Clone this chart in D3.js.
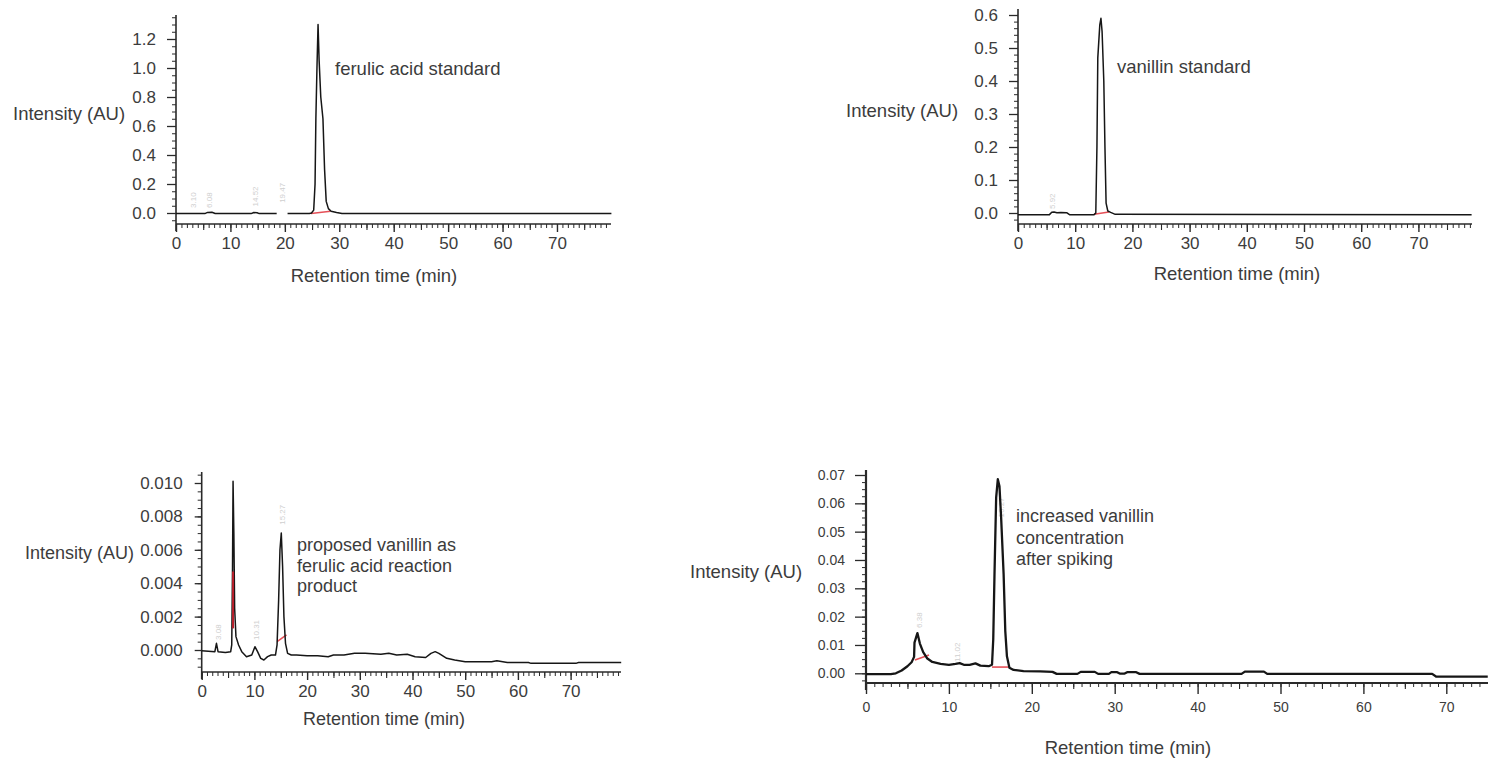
<!DOCTYPE html>
<html>
<head>
<meta charset="utf-8">
<script src="https://cdn.jsdelivr.net/npm/d3@7"></script>
<style>
  body { margin: 0; background: #fff; }
  svg text { font-family: "Liberation Sans", Arial, sans-serif; }
</style>
</head>
<body>
<svg id="chart" width="1488" height="763"></svg>
<script>
// ---------- chromatogram data: [retention time (min), absorbance (AU)] ----------
const ferulicTrace = [
  [0,-0.004],[2.5,-0.004],[5.3,-0.004],[5.8,0.004],[6.6,0.005],[7.2,-0.003],
  [13.8,-0.004],[14.3,0.003],[14.9,0.002],[15.3,-0.004],[18.5,-0.004],
  [18.6,null],[20.4,null],
  [20.5,-0.004],[24.5,-0.003],[24.9,0.0],[25.3,0.02],[25.55,0.2],[25.7,0.65],
  [25.9,1.0],[26.1,1.30],[26.3,1.05],[26.6,0.8],[27.0,0.65],[27.3,0.3],
  [27.6,0.08],[28.0,0.03],[28.5,0.012],[29.5,0.003],[30.5,-0.004],[80,-0.004]
];
const ferulicBaseline = [[24.8,-0.003],[28.4,0.012]];
const ferulicPeakTags = [[3.1,0.035,"3.10"],[6.1,0.035,"6.08"],[14.5,0.045,"14.52"],[19.5,0.07,"19.47"]];
const ferulicYTicks = [0, 0.2, 0.4, 0.6, 0.8, 1.0, 1.2];

const vanillinTrace = [
  [0,-0.005],[5.5,-0.005],[5.9,0.002],[6.3,0.003],[6.8,0.001],[7.5,0.0015],
  [8.5,0.001],[9.0,-0.005],[13.3,-0.005],[13.6,0.0],[13.8,0.2],[13.95,0.47],
  [14.3,0.57],[14.5,0.59],[14.7,0.55],[15.0,0.4],[15.2,0.2],[15.4,0.03],
  [15.7,0.006],[16.2,0.002],[17,-0.004],[79.3,-0.005]
];
const vanillinBaseline = [[13.3,-0.004],[15.9,0.003]];
const vanillinPeakTags = [[5.9,0.012,"5.92"]];
const vanillinYTicks = [0, 0.1, 0.2, 0.3, 0.4, 0.5, 0.6];

const reactionTrace = [
  [0,-0.00005],[2.5,-0.0001],[2.8,0.0004],[3.1,-0.0001],[4.5,-0.00015],[5.5,-0.0001],
  [5.7,0.0003],[5.85,0.005],[5.95,0.0101],[6.1,0.007],[6.25,0.0025],[6.5,0.0008],
  [7.0,0.0003],[7.6,-0.0001],[8.5,-0.0004],[9.5,-0.0003],[10.1,0.0002],[10.6,-0.0001],
  [11.2,-0.0005],[11.8,-0.0006],[12.5,-0.0004],[13.2,-0.0003],[14.0,-0.0003],
  [14.3,0.0003],[14.6,0.003],[14.85,0.006],[15.1,0.0070],[15.35,0.005],[15.6,0.002],
  [15.9,0.0004],[16.3,-0.0002],[17,-0.0003],[18,-0.0003],[20,-0.00035],[22,-0.00035],
  [24,-0.0004],[25,-0.0003],[27,-0.0003],[29,-0.0002],[31,-0.0002],[34,-0.00025],
  [35.5,-0.0002],[37,-0.0003],[39,-0.00025],[40.5,-0.0004],[42.5,-0.00045],
  [43.5,-0.0002],[44.3,-0.0001],[45,-0.0002],[46.5,-0.0005],[48,-0.0006],[50,-0.0007],
  [53,-0.0007],[55,-0.0007],[56,-0.00065],[58,-0.00075],[62,-0.00075],[62.5,-0.0008],
  [68,-0.0008],[71,-0.0008],[71.5,-0.00075],[79.6,-0.00075]
];
const reactionDropLine = [[5.95,0.0013],[5.95,0.0047]];
const reactionBaseline = [[14.3,0.0005],[16.1,0.0009]];
const reactionPeakTags = [[3.1,0.0006,"3.08"],[10.3,0.0006,"10.31"],[15.3,0.0075,"15.27"]];
const reactionYTicks = [0, 0.002, 0.004, 0.006, 0.008, 0.010];

const spikedTrace = [
  [0,-0.0003],[3,-0.0003],[3.6,0.0],[4.3,0.001],[5.0,0.0025],[5.5,0.0039],[5.8,0.0058],
  [5.85,0.0108],[6.2,0.0142],[6.5,0.0105],[6.9,0.0075],[7.4,0.0052],[8.0,0.004],
  [9,0.0033],[10,0.003],[10.8,0.0033],[11.3,0.0036],[11.8,0.003],[12.5,0.003],
  [13.2,0.0035],[13.8,0.0027],[14.8,0.0025],[15.2,0.003],[15.35,0.012],[15.5,0.035],
  [15.7,0.062],[15.9,0.0685],[16.1,0.066],[16.3,0.055],[16.6,0.035],[16.8,0.015],
  [17.0,0.006],[17.3,0.002],[17.8,0.0012],[19,0.0008],[21,0.0007],[22.5,0.0005],
  [23,-0.0002],[25.5,-0.0002],[25.9,0.0005],[27.6,0.0005],[28,-0.0002],[29.3,-0.0002],
  [29.6,0.0004],[30.3,0.0004],[30.6,-0.0001],[31.2,-0.0001],[31.5,0.0004],[32.6,0.0004],
  [33,-0.0002],[45.3,-0.0002],[45.7,0.0006],[48,0.0006],[48.4,-0.0002],[68.3,-0.0002],
  [68.8,-0.0012],[75,-0.0012]
];
const spikedBaselines = [
  [[5.9,0.0047],[7.6,0.0065]],
  [[15.2,0.0022],[17.2,0.0022]]
];
const spikedPeakTags = [[6.4,0.016,"6.38"],[11.0,0.004,"11.02"],[16.3,0.055,"16.27"]];
const spikedYTicks = [0, 0.01, 0.02, 0.03, 0.04, 0.05, 0.06, 0.07];

const timeTicks = [0, 10, 20, 30, 40, 50, 60, 70];
const yAxisTitle = "Intensity (AU)";
const xAxisTitle = "Retention time (min)";

// ---------- panel layout ----------
const panels = [
  {
    trace: ferulicTrace, reds: [ferulicBaseline], tags: ferulicPeakTags,
    yTicks: ferulicYTicks, yMinor: 0.05, fmt: d3.format(".1f"),
    xDomain: [0, 80], xRange: [176, 611.4],
    yDomain: [0, 1.2], yRange: [213, 39],
    axisTop: 15, axisY: 224, axisEnd: 611,
    tickFont: 17, yPad: 11, ytick: 9,
    note: ["ferulic acid standard"], noteX: 335, noteY: 70, noteFont: 18.5, noteGap: 21,
    yTitle: [13, 115], xTitle: [374, 277], titleFont: 18.5, lw: 1.5
  },
  {
    trace: vanillinTrace, reds: [vanillinBaseline], tags: vanillinPeakTags,
    yTicks: vanillinYTicks, yMinor: 0.02, fmt: d3.format(".1f"),
    xDomain: [0, 79.3], xRange: [1018, 1471.6],
    yDomain: [0, 0.6], yRange: [213, 15],
    axisTop: 9, axisY: 224, axisEnd: 1472,
    tickFont: 17, yPad: 11, ytick: 9,
    note: ["vanillin standard"], noteX: 1117, noteY: 68, noteFont: 18.5, noteGap: 21,
    yTitle: [846, 112], xTitle: [1237, 275], titleFont: 18.5, lw: 1.5
  },
  {
    trace: reactionTrace, reds: [reactionDropLine, reactionBaseline], tags: reactionPeakTags,
    yTicks: reactionYTicks, yMinor: 0.0005, fmt: d3.format(".3f"),
    xDomain: [0, 79.6], xRange: [201.7, 621.2],
    yDomain: [0, 0.010], yRange: [650, 483],
    axisTop: 472, axisY: 672, axisEnd: 621,
    tickFont: 17, yPad: 12, ytick: 7,
    note: ["proposed vanillin as", "ferulic acid reaction", "product"],
    noteX: 297, noteY: 546, noteFont: 18, noteGap: 20.5,
    yTitle: [25, 554], xTitle: [384, 720], titleFont: 18, lw: 1.5
  },
  {
    trace: spikedTrace, reds: spikedBaselines, tags: spikedPeakTags,
    yTicks: spikedYTicks, yMinor: 0.0025, fmt: d3.format(".2f"),
    xDomain: [0, 75], xRange: [866, 1487.75],
    yDomain: [0, 0.07], yRange: [673.3, 475],
    axisTop: 470, axisY: 683, axisEnd: 1488,
    tickFont: 14, yPad: 10, ytick: 11,
    note: ["increased vanillin", "concentration", "after spiking"],
    noteX: 1016, noteY: 517, noteFont: 18, noteGap: 21.5,
    yTitle: [690, 573], xTitle: [1128, 749], titleFont: 18.5, lw: 2.3
  }
];

const svg = d3.select("#chart");
const ink = "#2a2a2a";
const labelInk = "#3c3c3c";

panels.forEach(p => {
  const g = svg.append("g");
  const x = d3.scaleLinear().domain(p.xDomain).range(p.xRange);
  const y = d3.scaleLinear().domain(p.yDomain).range(p.yRange);
  const x0 = x(0);

  // axis lines
  g.append("line").attr("x1", x0).attr("x2", x0)
    .attr("y1", p.axisTop).attr("y2", p.axisY + 7)
    .attr("stroke", ink).attr("stroke-width", p.lw > 2 ? 2.2 : 1.6);
  g.append("line").attr("x1", x0).attr("x2", p.axisEnd)
    .attr("y1", p.axisY).attr("y2", p.axisY)
    .attr("stroke", ink).attr("stroke-width", p.lw > 2 ? 2 : 1.4);

  // y axis: minor and major ticks
  const yMaxVis = y.invert(p.axisTop + 2);
  const yMinVis = y.invert(p.axisY - 2);
  const minorY = d3.range(Math.ceil(yMinVis / p.yMinor) * p.yMinor, yMaxVis, p.yMinor);
  const yMinorAxis = d3.axisLeft(y).tickValues(minorY).tickSize(4).tickFormat("").tickSizeOuter(0);
  g.append("g").attr("transform", `translate(${x0},0)`).call(yMinorAxis)
    .call(a => a.select(".domain").remove())
    .selectAll("line").attr("stroke", ink).attr("stroke-width", 1);
  const yAxis = d3.axisLeft(y).tickValues(p.yTicks).tickSize(p.ytick)
    .tickPadding(p.yPad).tickFormat(p.fmt).tickSizeOuter(0);
  const ya = g.append("g").attr("transform", `translate(${x0},0)`).call(yAxis);
  ya.select(".domain").remove();
  ya.selectAll("line").attr("stroke", ink).attr("stroke-width", 1.3);
  ya.selectAll("text").attr("fill", labelInk).style("font-size", p.tickFont + "px");

  // x axis: minor (1 min), medium (5 min), major (10 min)
  const xMax = x.invert(p.axisEnd - 1);
  const minorX = d3.range(0, xMax, 1);
  const mediumX = d3.range(5, xMax, 10);
  const xm = g.append("g").attr("transform", `translate(0,${p.axisY})`)
    .call(d3.axisBottom(x).tickValues(minorX).tickSize(4).tickFormat("").tickSizeOuter(0));
  xm.select(".domain").remove();
  xm.selectAll("line").attr("stroke", ink).attr("stroke-width", 1);
  const xmd = g.append("g").attr("transform", `translate(0,${p.axisY})`)
    .call(d3.axisBottom(x).tickValues(mediumX).tickSize(6).tickFormat("").tickSizeOuter(0));
  xmd.select(".domain").remove();
  xmd.selectAll("line").attr("stroke", ink).attr("stroke-width", 1.1);
  const xa = g.append("g").attr("transform", `translate(0,${p.axisY})`)
    .call(d3.axisBottom(x).tickValues(timeTicks).tickSize(p.lw > 2 ? 11 : 8)
      .tickPadding(p.lw > 2 ? 8 : 5).tickFormat(d3.format("d")).tickSizeOuter(0));
  xa.select(".domain").remove();
  xa.selectAll("line").attr("stroke", ink).attr("stroke-width", 1.4);
  xa.selectAll("text").attr("fill", labelInk).style("font-size", p.tickFont + "px");

  // faint retention-time tags above the detected peaks
  g.selectAll("text.tag").data(p.tags).join("text")
    .attr("class", "tag")
    .attr("transform", d => `translate(${x(d[0]) + 3},${y(d[1])}) rotate(-90)`)
    .attr("fill", "#cfcfcf")
    .style("font-size", "8px")
    .text(d => d[2]);

  // integration baselines / drop lines
  p.reds.forEach(seg => {
    g.append("path").datum(seg)
      .attr("d", d3.line().x(d => x(d[0])).y(d => y(d[1])))
      .attr("fill", "none").attr("stroke", "#e0303a").attr("stroke-width", 1.6)
      .attr("opacity", 0.85);
  });

  // chromatogram trace
  const line = d3.line()
    .defined(d => d[1] !== null)
    .x(d => x(d[0])).y(d => y(d[1]));
  g.append("path").datum(p.trace)
    .attr("d", line)
    .attr("fill", "none").attr("stroke", "#161616")
    .attr("stroke-width", p.lw).attr("stroke-linejoin", "round");

  // drop lines sit on the peak flank, so they are drawn over the trace
  p.reds.forEach(seg => {
    if (seg[0][0] === seg[1][0]) {
      g.append("path").datum(seg)
        .attr("d", d3.line().x(d => x(d[0])).y(d => y(d[1])))
        .attr("fill", "none").attr("stroke", "#b8202c").attr("stroke-width", 2);
    }
  });

  // annotation
  const note = g.append("text").attr("x", p.noteX).attr("y", p.noteY)
    .attr("fill", labelInk).style("font-size", p.noteFont + "px")
    .attr("dominant-baseline", "middle");
  note.selectAll("tspan").data(p.note).join("tspan")
    .attr("x", p.noteX).attr("dy", (d, i) => i === 0 ? 0 : p.noteGap).text(d => d);

  // axis titles
  g.append("text").attr("x", p.yTitle[0]).attr("y", p.yTitle[1])
    .attr("dominant-baseline", "middle").attr("fill", labelInk)
    .style("font-size", p.titleFont + "px").text(yAxisTitle);
  g.append("text").attr("x", p.xTitle[0]).attr("y", p.xTitle[1])
    .attr("dominant-baseline", "middle").attr("text-anchor", "middle").attr("fill", labelInk)
    .style("font-size", p.titleFont + "px").text(xAxisTitle);
});
</script>
</body>
</html>
